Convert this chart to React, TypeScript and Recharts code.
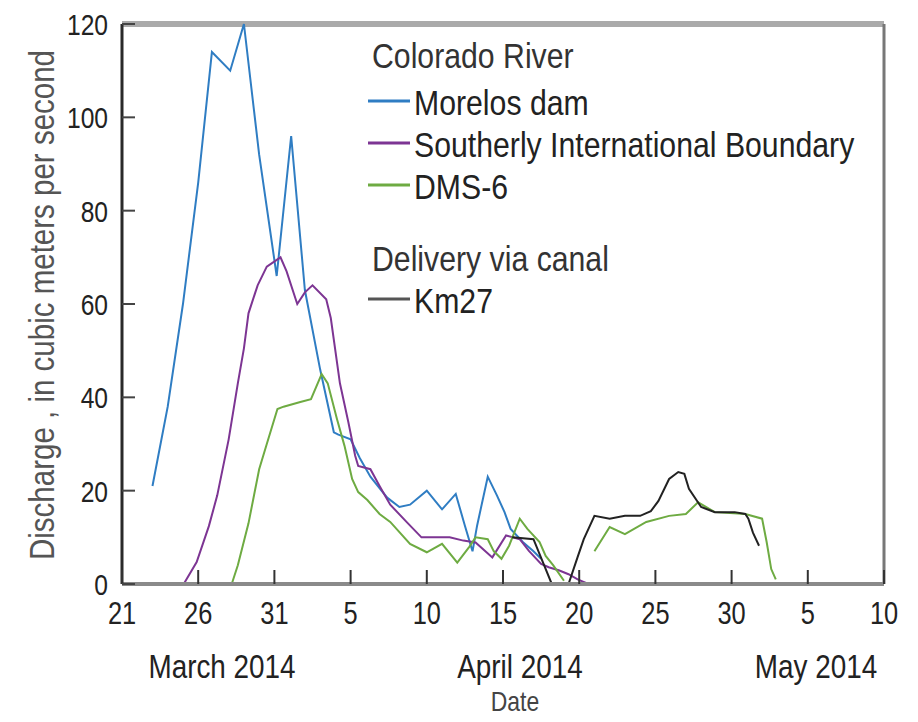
import React from 'react';
import { LineChart, Line, XAxis, YAxis, ReferenceLine } from 'recharts';

// days counted from 21 March 2014
const xTicks = [0, 5, 10, 15, 20, 25, 30, 35, 40, 45, 50];
const xTickLabels = ['21', '26', '31', '5', '10', '15', '20', '25', '30', '5', '10'];
const yTicks = [0, 20, 40, 60, 80, 100, 120];
const monthLabels = ['March 2014', 'April 2014', 'May 2014'];
const seriesNames = ['Morelos dam', 'Southerly International Boundary', 'DMS-6', 'Km27'];
const groupNames = ['Colorado River', 'Delivery via canal'];

const morelosDay = [2.0, 3.0, 4.0, 5.0, 5.9, 7.1, 8.0, 9.0, 10.15, 11.1, 12.0, 13.0, 13.9, 14.2, 15.0, 15.6, 16.3, 17.4, 18.2, 18.9, 20.0, 21.0, 21.9, 22.5, 23.0, 23.3, 24.0, 24.6, 25.1, 25.5, 26.3, 27.0, 27.5];
const morelosQ = [21, 38, 60, 86, 114, 110, 120, 92, 66, 96, 63, 46, 32.5, 32, 31, 27, 23, 18.5, 16.5, 17, 20, 16, 19.3, 12.5, 7, 12.5, 23, 19, 15.4, 11.8, 9, 7, 5.4];

const sibDay = [4.05, 4.9, 5.7, 6.25, 7.0, 7.6, 8.0, 8.3, 8.9, 9.5, 10.4, 10.8, 11.5, 12.0, 12.5, 13.4, 13.7, 14.3, 14.85, 15.3, 15.5, 16.3, 16.9, 17.6, 18.7, 19.65, 21.5, 22.4, 23.2, 24.3, 25.2, 26.1, 26.7, 27.5, 28.0, 28.7, 29.3, 29.9, 30.6, 31.3];
const sibQ = [0, 4.7, 12.4, 19, 31, 43, 50.5, 58, 64, 68, 70, 67, 60, 62.5, 64, 61, 57, 43, 34.7, 27.5, 25.3, 24.6, 21, 17, 13.2, 10, 10, 9.3, 8.9, 5.7, 10.4, 9.6, 7.1, 4.3, 3.6, 2.9, 2.1, 1, 0, 0];

const dmsDay = [7.2, 7.6, 8.3, 9.0, 9.5, 10.2, 10.6, 11.7, 12.4, 13.1, 13.5, 14.1, 14.6, 15.1, 15.5, 16.1, 16.9, 17.6, 18.9, 20.0, 21.0, 22.0, 22.8, 23.2, 24.0, 24.4, 24.9, 25.4, 26.1, 26.6, 27.4, 27.8, 28.3, 29.0, 30.0, 31.0, 32.0, 33.0, 34.4, 35.9, 37.0, 37.8, 38.9, 40.9, 42.0, 42.3, 42.6, 42.9];
const dmsQ = [0, 4, 13, 24.6, 30, 37.5, 38, 39, 39.6, 45, 43, 35.4, 29.6, 22.5, 19.7, 18, 15, 13.3, 8.6, 6.8, 8.6, 4.6, 8, 10, 9.6, 7, 5.4, 8.2, 14, 11.8, 9, 6, 4, 0.7, null, 7, 12.2, 10.7, 13.3, 14.6, 15, 17.5, 15.4, 15, 14, 9, 3.2, 1];

const km27Day = [25.6, 27.0, 28.2, 29.3, 29.9, 30.3, 31.0, 32.0, 33.0, 34.0, 34.7, 35.2, 35.9, 36.5, 36.9, 37.2, 38.0, 38.9, 40.2, 40.9, 41.1, 41.4, 41.8];
const km27Q = [10, 9.6, 0, 0, 5.8, 9.6, 14.6, 14, 14.6, 14.6, 15.6, 17.8, 22.5, 24, 23.6, 20.4, 16.5, 15.4, 15.4, 15, 14, 11, 8.2];

const toPoints = (days: number[], q: (number | null)[]) => days.map((d, i) => ({ day: d, q: q[i] }));

const colors = ['#2f7dc3', '#7d3593', '#6eab42', '#222222'];
const series = [
  toPoints(morelosDay, morelosQ),
  toPoints(sibDay, sibQ),
  toPoints(dmsDay, dmsQ),
  toPoints(km27Day, km27Q),
];

const FONT = "'Liberation Sans', Arial, sans-serif";

// condensed look: squeeze Liberation Sans horizontally
function NText({ x, y, size, anchor = 'start', fill = '#222', rotate = 0, sx = 0.82, children }: any) {
  return (
    <g transform={`translate(${x},${y}) rotate(${rotate}) scale(${sx},1)`}>
      <text x={0} y={0} fontSize={size} fontFamily={FONT} textAnchor={anchor} fill={fill}>
        {children}
      </text>
    </g>
  );
}

const XTick = (props: any) => {
  const { x, y, payload } = props;
  const i = xTicks.indexOf(payload.value);
  return (
    <g>
      <line x1={x} x2={x} y1={y} y2={y - 14} stroke="#333" strokeWidth={2} />
      <NText x={x} y={y + 40} size={31} anchor="middle">{xTickLabels[i]}</NText>
    </g>
  );
};

const YTick = (props: any) => {
  const { x, y, payload } = props;
  return (
    <g>
      <line x1={x} x2={x + 13} y1={y} y2={y} stroke="#444" strokeWidth={2} />
      <NText x={x - 14} y={y + 11} size={30} anchor="end">{payload.value}</NText>
    </g>
  );
};

function Overlay() {
  const rows = [115, 157, 199];
  return (
    <svg width={918} height={722} style={{ position: 'absolute', left: 0, top: 0, pointerEvents: 'none' }}>
      <NText x={372} y={68} size={36} sx={0.84} fill="#333">{groupNames[0]}</NText>
      {rows.map((ry, i) => (
        <g key={i}>
          <line x1={368} x2={410} y1={ry - 14} y2={ry - 14} stroke={colors[i]} strokeWidth={3} />
          <NText x={414} y={ry} size={36} sx={0.84} fill="#222">{seriesNames[i]}</NText>
        </g>
      ))}
      <NText x={372} y={271} size={36} sx={0.84} fill="#333">{groupNames[1]}</NText>
      <line x1={368} x2={410} y1={299} y2={299} stroke="#555" strokeWidth={3} />
      <NText x={414} y={313} size={36} sx={0.84} fill="#222">{seriesNames[3]}</NText>

      <NText x={222} y={678} size={34} anchor="middle">{monthLabels[0]}</NText>
      <NText x={520} y={678} size={34} anchor="middle">{monthLabels[1]}</NText>
      <NText x={816} y={678} size={34} anchor="middle">{monthLabels[2]}</NText>
      <NText x={515} y={711} size={28} anchor="middle" fill="#444">Date</NText>

      <NText x={54} y={305} size={36} anchor="middle" fill="#555" rotate={-90}>
        Discharge , in cubic meters per second
      </NText>
    </svg>
  );
}

export default function App() {
  return (
    <div style={{ position: 'absolute', left: 0, top: 0, width: 918, height: 722, background: '#fff' }}>
      <LineChart width={918} height={722} margin={{ top: 24, right: 34, left: 0, bottom: 0 }}>
        <XAxis
          dataKey="day"
          type="number"
          domain={[0, 50]}
          ticks={xTicks}
          allowDataOverflow
          height={138}
          tickSize={0}
          tickMargin={0}
          tickLine={false}
          axisLine={{ stroke: '#8a8a8a', strokeWidth: 4 }}
          tick={<XTick />}
          interval={0}
        />
        <YAxis
          type="number"
          domain={[0, 120]}
          ticks={yTicks}
          width={122}
          tickSize={0}
          tickMargin={0}
          tickLine={false}
          axisLine={{ stroke: '#2a2a2a', strokeWidth: 3 }}
          tick={<YTick />}
          interval={0}
        />
        <ReferenceLine y={120} stroke="#aaaaaa" strokeWidth={6} />
        <ReferenceLine x={50} stroke="#777777" strokeWidth={3} />
        {series.map((data, i) => (
          <Line
            key={seriesNames[i]}
            data={data}
            dataKey="q"
            type="linear"
            stroke={colors[i]}
            strokeWidth={2}
            dot={false}
            connectNulls={false}
            isAnimationActive={false}
          />
        ))}
      </LineChart>
      <Overlay />
    </div>
  );
}
